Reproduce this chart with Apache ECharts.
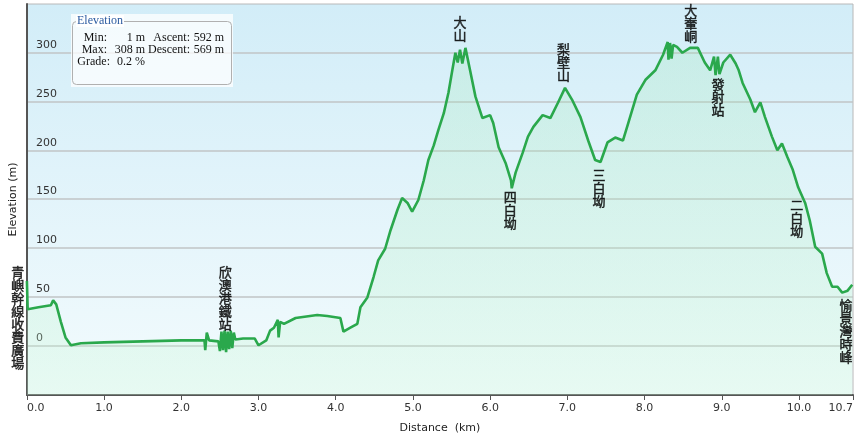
<!DOCTYPE html>
<html><head><meta charset="utf-8">
<script src="https://cdn.jsdelivr.net/npm/echarts@6/dist/echarts.min.js"></script>
<style>html,body{margin:0;padding:0;background:#fff}#c{width:858px;height:441px}</style>
</head><body><div id="c"></div>
<script>
const distanceKm = [0,0.01,0.15,0.31,0.34,0.38,0.44,0.50,0.57,0.70,1.0,1.5,2.0,2.3,2.31,2.33,2.36,2.48,2.50,2.52,2.54,2.56,2.58,2.60,2.62,2.64,2.66,2.68,2.70,2.8,2.95,3.0,3.1,3.15,3.2,3.25,3.26,3.28,3.33,3.48,3.76,3.89,4.06,4.10,4.19,4.28,4.32,4.41,4.49,4.55,4.64,4.71,4.80,4.86,4.93,4.99,5.07,5.14,5.20,5.27,5.33,5.40,5.46,5.51,5.55,5.58,5.61,5.64,5.68,5.74,5.81,5.90,6.00,6.04,6.11,6.20,6.27,6.28,6.33,6.42,6.49,6.56,6.68,6.78,6.88,6.97,7.06,7.17,7.27,7.36,7.43,7.52,7.62,7.72,7.79,7.90,8.01,8.14,8.24,8.30,8.31,8.33,8.35,8.37,8.42,8.49,8.59,8.69,8.78,8.85,8.90,8.92,8.95,8.97,9.02,9.11,9.18,9.22,9.27,9.37,9.43,9.50,9.56,9.65,9.72,9.78,9.85,9.92,9.99,10.08,10.14,10.21,10.30,10.36,10.43,10.50,10.56,10.63,10.69];
const elevationM = [66,37,39,41,46,42,24,8,0,2,3,4,5,5,-5,13,5,4,-6,14,-5,15,-7,14,-4,15,-3,13,6,7,7,0,5,15,18,26,8,24,22,28,31,30,28,14,18,22,39,49,70,87,99,118,139,151,146,137,149,169,190,205,221,238,259,282,300,290,303,289,305,282,255,233,236,228,203,187,169,161,177,197,214,224,236,233,249,264,252,234,210,190,188,208,213,210,228,257,272,282,298,311,293,310,294,308,306,300,305,305,290,282,296,277,296,278,290,298,289,282,269,252,239,249,234,214,200,207,193,180,162,146,128,101,94,74,60,60,54,56,62];
const xTickValues = [0,1,2,3,4,5,6,7,8,9,10,10.7];
const yTickValues = [0,50,100,150,200,250,300];
const placeNames = ['青嶼幹線收費廣場','欣澳港鐵站','大山','四白坳','梨壁山','三白坳','大輋峒','發射站','二白坳','愉景灣時峰'];
const placeKm = [-0.12,2.57,5.61,6.26,6.95,7.41,8.60,8.95,9.97,10.61];
const placeElev = [82,82,311,159,270,182,310,275,151,48];
const placeSide = ['below','below','above','below','above','below','above','below','below','below'];
const statsTitle = 'Elevation';
const statsLabels1 = ['Min:','Max:','Grade:'];
const statsValues1 = ['1 m','308 m','0.2 %'];
const statsLabels2 = ['Ascent:','Descent:',''];
const statsValues2 = ['592 m','569 m',''];

const chart = echarts.init(document.getElementById('c'), null, {renderer:'canvas'});
const lineData = distanceKm.map((d,i)=>[d, elevationM[i]]);
const placeData = placeNames.map((n,i)=>({
  name:n, value:[placeKm[i], placeElev[i]],
  label:{position: placeSide[i]==='below' ? 'bottom' : 'top'}
}));
const serif = '"Liberation Serif","DejaVu Serif",serif';
const rowY = [38,50,62];
const statEls = [];
rowY.forEach((y,i)=>{
  const st = (t,x)=>({type:'text', z:14, style:{text:t, x:x, y:y, align:'right', verticalAlign:'middle', font:'12px '+serif, fill:'#111'}});
  statEls.push(st(statsLabels1[i], i===2?110:107));
  statEls.push(st(statsValues1[i], 145));
  statEls.push(st(statsLabels2[i], 190));
  statEls.push(st(statsValues2[i], 224));
});

chart.setOption({
  animation:false,
  backgroundColor:'#ffffff',
  grid:{left:26, right:5, top:4, bottom:46, show:true, borderColor:'#b8b8b8', borderWidth:1,
    backgroundColor:{type:'linear',x:0,y:0,x2:0,y2:1,colorStops:[{offset:0,color:'#d2edf8'},{offset:1,color:'#f3fbfd'}]}},
  xAxis:{type:'value', min:0, max:10.7,
    name:'Distance  (km)', nameLocation:'middle', nameGap:28,
    nameTextStyle:{fontFamily:'DejaVu Sans', fontSize:11, color:'#222'},
    axisLine:{show:true, onZero:false, lineStyle:{color:'#555', width:2}},
    axisTick:{show:true, length:5, lineStyle:{color:'#555'}, customValues:xTickValues},
    axisLabel:{customValues:xTickValues, formatter:v=>v.toFixed(1), fontFamily:'DejaVu Sans', fontSize:11, color:'#333', margin:8, alignMinLabel:'left', alignMaxLabel:'right'},
    splitLine:{show:false}},
  yAxis:{type:'value', min:-51, max:350,
    name:'Elevation (m)', nameLocation:'middle', nameGap:5, nameRotate:90,
    nameTextStyle:{fontFamily:'DejaVu Sans', fontSize:11, color:'#222'},
    axisLine:{show:true, onZero:false, lineStyle:{color:'#555', width:2}},
    axisTick:{show:false, customValues:yTickValues},
    axisLabel:{inside:true, customValues:yTickValues, fontFamily:'DejaVu Sans', fontSize:11, color:'#333', margin:9, verticalAlign:'bottom', padding:[0,0,2,0]},
    splitLine:{show:true, lineStyle:{color:'#c0c4c6', width:1.5}}},
  series:[
    {type:'line', data:lineData, showSymbol:false, symbol:'none', sampling:'none',
     lineStyle:{color:'#2aa84c', width:2.6},
     areaStyle:{origin:'start', color:{type:'linear',x:0,y:0,x2:0,y2:1,colorStops:[{offset:0,color:'rgba(150,230,170,0.3)'},{offset:1,color:'rgba(200,248,215,0.4)'}]}},
     z:2},
    {type:'scatter', data:placeData, symbolSize:1, itemStyle:{color:'rgba(0,0,0,0)'}, clip:false, silent:true, z:5,
     label:{show:true, distance:0, formatter:p=>p.name.split('').join('\n'),
       fontFamily:'"Noto Sans CJK TC"', fontSize:13, fontWeight:'normal', lineHeight:13, color:'#000',
       textBorderColor:'#000', textBorderWidth:0.5}}
  ],
  graphic:[
    {type:'rect', shape:{x:71,y:14,width:162,height:73}, style:{fill:'rgba(255,255,255,0.75)'}, z:10},
    {type:'rect', shape:{x:72.5,y:21.5,width:159,height:63,r:4}, style:{fill:'none', stroke:'#b0b0b0', lineWidth:1}, z:11},
    {type:'rect', shape:{x:76,y:15,width:48,height:12}, style:{fill:'#ffffff'}, z:12},
    {type:'text', style:{text:statsTitle, x:77, y:21, verticalAlign:'middle', font:'12px '+serif, fill:'#2a5aa0'}, z:13},
    {type:'group', z:13, children:statEls}
  ]
});
</script>
</body></html>
